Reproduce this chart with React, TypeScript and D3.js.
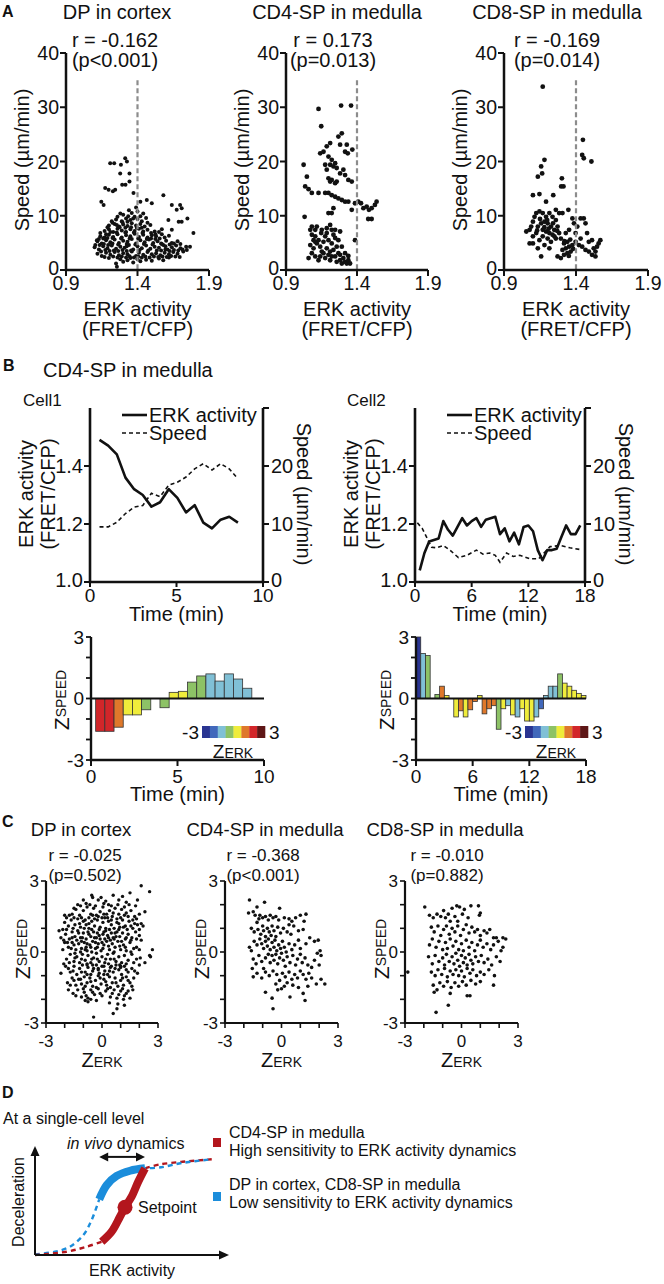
import React from "react";
import * as d3 from "d3";

const FONT = "'Liberation Sans', Arial, Helvetica, sans-serif";
const INK = "#111";

// ---------------- Panel A data ----------------
const A_X_DOMAIN = [0.9, 1.9];
const A_Y_DOMAIN = [0, 40];
const A_X_TICKS = [0.9, 1.4, 1.9];
const A_Y_TICKS = [0, 10, 20, 30, 40];
const A_THRESHOLD = 1.4;
const A_THRESHOLD_TOP = 35;
const A_TITLES = ["DP in cortex", "CD4-SP in medulla", "CD8-SP in medulla"];
const A_R = ["r = -0.162", "r = 0.173", "r = -0.169"];
const A_P = ["(p<0.001)", "(p=0.013)", "(p=0.014)"];

const A_DP: [number, number][] = [
  [1.25,1.2],[1.30,1.5],[1.33,1.8],[1.37,1.4],[1.40,2.0],[1.42,1.6],[1.46,1.9],[1.50,1.7],[1.55,2.1],[1.58,1.8],[1.62,2.3],[1.35,2.2],[1.28,2.0],
  [1.12,3.0],[1.15,2.6],[1.18,3.2],[1.21,2.8],[1.24,3.3],[1.27,2.7],[1.30,3.1],[1.33,2.9],[1.36,3.4],[1.39,2.6],[1.41,3.2],[1.44,2.8],[1.47,3.3],[1.50,2.9],[1.53,3.1],[1.56,2.7],[1.59,3.2],[1.62,2.9],[1.65,3.3],[1.68,3.0],[1.72,3.4],
  [1.10,4.2],[1.13,3.8],[1.16,4.4],[1.19,4.0],[1.22,4.5],[1.25,3.9],[1.28,4.3],[1.31,4.1],[1.34,4.6],[1.37,3.8],[1.40,4.4],[1.43,4.0],[1.46,4.5],[1.49,3.9],[1.52,4.3],[1.55,4.1],[1.58,4.6],[1.61,3.8],[1.64,4.2],[1.67,4.5],[1.70,4.0],[1.74,4.3],
  [1.12,5.3],[1.15,4.9],[1.18,5.5],[1.21,5.1],[1.24,5.6],[1.27,5.0],[1.30,5.4],[1.33,5.2],[1.36,5.7],[1.39,4.9],[1.42,5.5],[1.45,5.1],[1.48,5.6],[1.51,5.0],[1.54,5.3],[1.57,4.8],[1.60,5.4],[1.64,5.0],[1.68,5.3],
  [1.14,6.2],[1.17,6.0],[1.20,6.5],[1.23,6.1],[1.26,6.6],[1.29,6.0],[1.32,6.4],[1.35,6.2],[1.38,6.7],[1.41,6.1],[1.44,6.5],[1.47,6.0],[1.50,6.4],[1.53,6.2],[1.57,6.6],[1.62,6.3],
  [1.17,7.2],[1.20,7.5],[1.23,7.0],[1.26,7.6],[1.29,7.3],[1.32,7.0],[1.35,7.5],[1.38,7.2],[1.41,7.6],[1.44,7.1],[1.47,7.4],[1.52,7.1],[1.57,7.5],
  [1.20,8.2],[1.24,8.5],[1.27,8.0],[1.30,8.4],[1.33,8.1],[1.36,8.6],[1.39,8.2],[1.42,8.5],[1.45,8.0],[1.49,8.3],
  [1.25,9.3],[1.29,9.0],[1.32,9.5],[1.35,9.2],[1.38,9.8],[1.40,9.4],[1.43,9.0],[1.46,9.6],[1.30,10.2],[1.36,10.5],[1.40,10.8],[1.39,11.5],[1.34,11.0],[1.44,10.4],
  [1.235,3.6],[1.265,4.7],[1.295,3.7],[1.325,4.8],[1.355,3.6],[1.385,4.7],[1.415,3.7],[1.445,4.8],[1.475,3.6],[1.505,4.7],[1.535,3.6],
  [1.225,5.9],[1.255,6.9],[1.285,5.8],[1.315,6.9],[1.345,5.8],[1.375,6.9],[1.405,5.8],[1.435,6.8],[1.465,5.7],[1.275,7.9],[1.315,7.8],[1.355,7.9],[1.395,7.8],[1.335,9.9],
  [1.17,2.4],[1.20,2.2],[1.23,2.5],[1.26,2.3],[1.29,2.5],[1.32,2.3],[1.345,2.55],[1.375,2.3],[1.405,2.5],[1.43,2.3],[1.455,2.5],[1.485,2.3],[1.515,2.5],[1.545,2.4],[1.575,2.5],[1.605,2.4],[1.635,2.6],[1.665,2.5],[1.695,2.4],
  [1.145,3.4],[1.175,3.7],[1.205,3.5],[1.265,3.5],[1.325,3.5],[1.565,3.6],[1.595,3.8],[1.625,3.5],[1.655,3.7],[1.685,3.6],[1.715,3.8],[1.745,3.7],
  [1.135,4.6],[1.165,4.8],[1.195,4.6],[1.225,4.9],[1.325,4.4],[1.565,4.9],[1.595,4.4],[1.625,4.7],[1.655,4.9],[1.70,4.8],
  [1.13,5.7],[1.16,5.8],[1.19,5.9],[1.495,5.8],[1.525,5.7],[1.555,5.8],[1.59,6.0],[1.14,6.8],[1.18,6.6],[1.21,7.0],[1.495,6.8],[1.525,6.6],[1.55,7.0],
  [1.19,7.9],[1.225,8.7],[1.255,8.3],[1.295,8.8],[1.43,7.8],[1.47,8.7],[1.22,9.0],[1.26,9.8],[1.33,8.9],[1.42,9.9],[1.37,9.5],[1.28,10.4],
  [1.209,19.7],[1.237,19.7],[1.314,20.6],[1.326,20.0],[1.284,19.4],[1.279,17.8],[1.344,17.8],[1.293,15.7],[1.316,15.7],[1.344,16.3],
  [1.174,15.1],[1.198,14.8],[1.228,14.5],[1.244,14.8],[1.147,12.6],[1.163,12.0],[1.372,14.2],[1.581,13.8],[1.640,12.0],[1.698,12.0],
  [1.709,11.4],[1.674,11.1],[1.749,9.5],[1.688,8.9],[1.709,8.9],[1.791,6.8],[1.767,4.3],[1.616,9.2],[1.640,7.4],[1.116,5.5],
  [1.105,4.6],[1.42,12.6],[1.465,12.9],[1.50,12.3],[1.256,0.6]
];

const A_CD4: [number, number][] = [
  [1.024,19.4],[1.047,17.2],[1.035,15.4],[1.059,14.9],[1.031,9.8],[1.082,14.2],[1.129,14.2],[1.129,29.7],[1.148,26.5],[1.141,21.5],
  [1.164,21.8],[1.187,22.8],[1.211,23.4],[1.199,10.5],[1.222,10.5],[1.234,11.4],[1.288,30.3],[1.358,30.3],[1.269,24.6],[1.293,25.2],
  [1.281,23.1],[1.316,21.8],[1.335,21.5],[1.367,22.2],[1.328,23.1],[1.199,20.9],[1.222,20.3],[1.211,19.4],[1.176,19.4],[1.187,18.5],
  [1.234,19.1],[1.246,19.7],[1.257,18.8],[1.281,17.8],[1.304,18.5],[1.316,17.5],[1.339,16.6],[1.363,16.3],[1.199,16.9],[1.211,16.3],
  [1.222,16.6],[1.246,16.0],[1.257,16.3],[1.176,14.2],[1.199,14.2],[1.222,13.8],[1.246,13.5],[1.269,13.2],[1.293,12.9],[1.316,12.6],
  [1.339,12.6],[1.363,11.1],[1.386,12.3],[1.409,12.6],[1.428,12.3],[1.445,11.4],[1.468,11.7],[1.484,11.1],[1.503,11.4],[1.526,12.0],
  [1.538,12.6],[1.479,9.4],[1.503,9.4],[1.386,5.5],
  [1.071,7.4],[1.082,8.0],[1.106,7.4],[1.117,8.0],[1.152,7.4],[1.211,8.3],[1.222,7.4],[1.187,6.8],[1.106,6.2],[1.071,4.6],
  [1.059,2.2],[1.082,3.1],[1.106,2.5],[1.129,1.8],[1.094,4.0],[1.117,4.9],[1.129,5.5],[1.141,4.3],[1.152,3.4],[1.164,5.2],
  [1.176,6.2],[1.187,4.0],[1.199,2.8],[1.211,1.8],[1.222,4.9],[1.234,3.7],[1.246,2.5],[1.257,1.5],[1.269,3.1],[1.281,1.8],
  [1.293,1.2],[1.304,2.2],[1.316,1.5],[1.328,1.2],[1.339,1.8],[1.351,1.2],[1.281,2.8],[1.257,4.3],[1.246,5.9],[1.164,3.1],
  [1.176,2.2],[1.141,2.5],[1.148,6.8],[1.199,5.5],[1.187,7.7],[1.234,6.5],[1.246,7.4],[1.281,7.1],[1.269,5.5],[1.293,4.3],
  [1.316,3.1],[1.339,2.6],[1.106,5.2],[1.082,6.5],[1.094,5.5],[1.211,3.4],[1.222,2.5]
];

const A_CD8: [number, number][] = [
  [1.169,33.8],[1.181,20.3],[1.158,19.1],[1.165,17.8],[1.135,17.2],[1.448,24.0],[1.443,21.2],[1.454,20.6],[1.507,20.0],[1.302,16.9],
  [1.313,15.4],[1.297,15.4],[1.101,13.8],[1.146,14.0],[1.242,13.8],[1.192,12.6],
  [1.055,7.1],[1.078,7.4],[1.089,8.0],[1.101,8.9],[1.112,9.8],[1.124,10.5],[1.146,10.8],[1.169,10.5],[1.192,9.8],[1.215,10.5],
  [1.237,9.8],[1.260,9.2],[1.283,10.5],[1.306,10.5],[1.347,11.1],[1.101,6.2],[1.124,6.8],[1.135,8.0],[1.158,8.6],[1.181,8.9],
  [1.203,8.6],[1.226,8.0],[1.249,7.4],[1.272,8.0],[1.169,7.4],[1.192,7.1],[1.215,6.8],[1.237,6.5],[1.260,5.8],[1.146,5.5],
  [1.169,6.2],[1.203,5.8],[1.226,5.2],[1.181,4.6],[1.135,4.0],[1.101,4.9],[1.158,2.5],[1.215,4.0],[1.283,6.8],[1.295,5.8],
  [1.317,4.9],[1.329,4.0],[1.340,3.1],[1.352,4.3],[1.363,3.4],[1.375,4.6],[1.306,3.7],[1.317,2.8],[1.295,2.2],[1.272,2.5],
  [1.340,5.2],[1.375,9.5],[1.386,8.6],[1.409,8.0],[1.432,9.5],[1.454,9.5],[1.466,8.6],[1.397,6.8],[1.397,5.2],[1.420,4.6],
  [1.432,5.8],[1.443,4.3],[1.466,3.7],[1.489,3.4],[1.511,2.8],[1.535,2.5],[1.523,4.0],[1.546,4.3],[1.557,4.9],[1.569,5.5],
  [1.511,5.5],[1.489,5.2],[1.477,6.8],[1.535,3.4],[1.260,11.1],[1.329,6.8],[1.352,7.4],[1.078,4.9],
  [1.18,7.9],[1.21,7.6],[1.24,8.6],[1.20,9.2],[1.15,9.4],[1.13,7.3],[1.25,6.2],[1.27,7.2],[1.32,5.3],[1.36,5.6],[1.38,3.9],[1.35,2.6]
];

// ---------------- Panel B data ----------------
const B_LEFT_DOMAIN = [1.0, 1.6];
const B_LEFT_TICKS = [1.0, 1.2, 1.4];
const B_RIGHT_DOMAIN = [0, 30];
const B_RIGHT_TICKS = [0, 10, 20, 30];
const B_RIGHT_LABELS = [0, 10, 20];
const B_CELL1_X = [0, 10];
const B_CELL1_TICKS = [0, 5, 10];
const B_CELL2_X = [0, 18];
const B_CELL2_TICKS = [0, 6, 12, 18];

const B_ERK1_T = [0.55,1.05,1.55,2.05,2.55,3.05,3.55,4.05,4.55,5.05,5.55,6.05,6.55,7.05,7.55,8.05,8.55];
const B_ERK1_V = [1.49,1.47,1.44,1.36,1.32,1.30,1.26,1.275,1.32,1.29,1.24,1.265,1.205,1.185,1.215,1.225,1.205];
const B_SPD1_V = [9.5,9.5,10.3,11.8,12.9,13.2,15.3,14.7,16.7,17.2,18.1,19.5,20.4,19.3,20.4,19.5,17.8];

const B_ERK2_T = [0.5,1,1.5,2,2.5,3,3.5,4,4.5,5,5.5,6,6.5,7,7.5,8,8.5,9,9.5,10,10.5,11,11.5,12,12.5,13,13.5,14,14.5,15,15.5,16,16.5,17,17.5];
const B_ERK2_V = [1.04,1.10,1.14,1.145,1.15,1.21,1.18,1.16,1.19,1.22,1.195,1.21,1.22,1.19,1.215,1.22,1.225,1.165,1.185,1.14,1.17,1.13,1.19,1.195,1.175,1.11,1.075,1.11,1.11,1.115,1.155,1.195,1.165,1.165,1.195];
const B_SPD2_T = [0.25,0.78,1.3,1.76,2.3,3.0,3.7,4.6,5.5,6.5,7.2,7.9,8.5,9.0,9.7,10.4,11.1,12.2,13.1,13.6,14.3,15.4,16.4,17.5];
const B_SPD2_V = [10.2,9.2,7.5,6.0,5.9,6.3,5.5,4.2,4.6,5.5,4.8,5.0,4.6,3.4,5.0,4.4,4.6,4.0,4.0,4.9,6.1,6.3,5.9,5.6];

const Z_DOMAIN = [-3, 3];
const Z_TICKS = [-3, -2, -1, 0, 1, 2, 3];
const Z_LABELS = [-3, 0, 3];
const Z_COLORS = ["#2a3592", "#4168bb", "#80c0d6", "#8dc266", "#efec3b", "#df782b", "#d2262a", "#5e1616"];

const B_BAR1_T = [0.535,1.066,1.597,2.128,2.659,3.19,3.721,4.252,4.783,5.314,5.845,6.376,6.907,7.438,7.969,8.5,9.031];
const B_BAR1_W = 0.531;
const B_BAR1_ZS = [-1.6,-1.6,-1.4,-0.8,-0.8,-0.55,0,-0.45,0.3,0.35,0.8,1.1,1.2,0.85,1.2,0.95,0.5];
const B_BAR1_ZE = [1.9,1.8,1.2,0.5,0.4,-0.3,0.1,-0.4,0.3,0.2,-0.5,-0.6,-1.0,-1.2,-0.9,-1.0,-0.8];

const B_BAR2_T = [0.25,0.75,1.25,1.75,2.25,2.75,3.25,3.75,4.25,4.75,5.25,5.75,6.25,6.75,7.25,7.75,8.25,8.75,9.25,9.75,10.25,10.75,11.25,11.75,12.25,12.75,13.25,13.75,14.25,14.75,15.25,15.75,16.25,16.75,17.25,17.75];
const B_BAR2_W = 0.5;
const B_BAR2_ZS = [3.0,2.2,2.1,0.0,0.2,0.6,0.15,0.0,-0.9,-0.6,-0.9,-0.55,-0.15,0.15,-0.75,-0.5,-0.35,-1.5,-0.5,-0.35,-0.8,-0.9,-0.5,-1.1,-1.1,-0.9,-0.5,0.15,0.6,0.6,1.2,0.75,0.6,0.4,0.25,0.15];
const B_BAR2_ZE = [-2.6,-1.2,-0.5,-0.2,-0.3,1.0,0.3,0.2,0.4,0.9,0.5,1.0,0.8,0.5,1.1,0.9,1.2,-0.4,0.3,-0.9,0.2,-1.0,0.1,0.6,0.5,-0.9,-1.8,-1.0,-1.1,-0.8,-0.2,0.3,0.4,0.2,0.3,0.5];

// ---------------- Panel C data ----------------
const C_TITLES = ["DP in cortex", "CD4-SP in medulla", "CD8-SP in medulla"];
const C_R = ["r = -0.025", "r = -0.368", "r = -0.010"];
const C_P = ["(p=0.502)", "(p<0.001)", "(p=0.882)"];

const C_DP: [number, number][] = [
  [-1.0,2.2],[-0.55,2.4],[-0.5,2.3],[-0.2,2.2],[0.2,2.15],[0.6,2.4],[1.1,2.35],[1.3,2.1],[1.5,2.5],[1.9,2.2],[2.1,2.8],[2.55,2.55],[-0.85,2.05],[0.35,2.0],[-1.3,2.0],[1.8,1.95],
  [-1.6,1.6],[-1.4,1.8],[-1.2,1.55],[-1.0,1.75],[-0.8,1.9],[-0.6,1.6],[-0.45,1.85],[-0.3,1.55],[-0.1,1.7],[0.05,1.9],[0.25,1.6],[0.4,1.75],[0.55,1.5],[0.7,1.85],[0.9,1.6],[1.05,1.8],[1.3,1.65],[1.55,1.75],[1.75,1.5],[2.0,1.6],[2.1,1.2],[-1.9,1.45],[-0.7,1.45],[0.15,1.45],[0.8,1.4],
  [-2.3,0.9],[-2.0,1.25],[-1.8,1.1],[-1.65,1.35],[-1.45,1.15],[-1.3,1.4],[-1.15,1.05],[-1.0,1.3],[-0.85,1.15],[-0.7,1.0],[-0.55,1.3],[-0.4,1.1],[-0.25,1.35],[-0.1,1.05],[0.05,1.25],[0.2,1.0],[0.35,1.3],[0.5,1.15],[0.65,1.0],[0.8,1.25],[0.95,1.05],[1.1,1.35],[1.25,1.1],[1.45,1.3],[1.65,1.0],[1.9,1.15],[2.2,1.1],[-2.1,0.95],
  [-2.2,0.6],[-1.95,0.75],[-1.75,0.55],[-1.6,0.85],[-1.45,0.65],[-1.3,0.9],[-1.15,0.6],[-1.0,0.8],[-0.85,0.55],[-0.7,0.75],[-0.55,0.95],[-0.4,0.6],[-0.25,0.8],[-0.1,0.55],[0.05,0.75],[0.2,0.9],[0.35,0.6],[0.5,0.8],[0.65,0.55],[0.8,0.85],[0.95,0.65],[1.1,0.8],[1.25,0.55],[1.4,0.75],[1.6,0.6],[1.8,0.85],[2.0,0.7],[2.1,0.5],
  [-1.8,0.2],[-1.6,0.4],[-1.4,0.1],[-1.25,0.35],[-1.1,0.15],[-0.95,0.4],[-0.8,0.05],[-0.65,0.3],[-0.5,0.45],[-0.35,0.15],[-0.2,0.35],[-0.05,0.05],[0.1,0.3],[0.25,0.45],[0.4,0.1],[0.55,0.35],[0.7,0.2],[0.85,0.45],[1.0,0.1],[1.15,0.3],[1.3,0.05],[1.5,0.4],[1.7,0.15],[2.0,0.1],[2.7,0.1],[2.55,-0.15],[-2.0,0.4],
  [-1.9,-0.3],[-1.7,-0.1],[-1.5,-0.4],[-1.35,-0.2],[-1.2,-0.45],[-1.05,-0.1],[-0.9,-0.35],[-0.75,-0.15],[-0.6,-0.45],[-0.45,-0.25],[-0.3,-0.05],[-0.15,-0.4],[0.0,-0.2],[0.15,-0.45],[0.3,-0.1],[0.45,-0.3],[0.6,-0.05],[0.75,-0.4],[0.9,-0.2],[1.05,-0.45],[1.2,-0.15],[1.4,-0.35],[1.6,-0.1],[1.85,-0.3],[2.6,-0.2],[2.3,-0.45],
  [-2.2,-0.9],[-1.95,-0.6],[-1.7,-0.85],[-1.5,-0.6],[-1.35,-0.95],[-1.2,-0.7],[-1.05,-0.55],[-0.9,-0.85],[-0.75,-0.65],[-0.6,-0.95],[-0.45,-0.7],[-0.3,-0.55],[-0.15,-0.9],[0.0,-0.6],[0.15,-0.8],[0.3,-0.95],[0.45,-0.65],[0.6,-0.85],[0.75,-0.55],[0.9,-0.75],[1.05,-0.95],[1.2,-0.6],[1.4,-0.85],[1.6,-0.7],[1.9,-0.9],[2.0,-0.55],
  [-1.85,-1.3],[-1.6,-1.1],[-1.4,-1.4],[-1.25,-1.15],[-1.1,-1.35],[-0.95,-1.05],[-0.8,-1.3],[-0.65,-1.1],[-0.5,-1.45],[-0.35,-1.2],[-0.2,-1.0],[-0.05,-1.35],[0.1,-1.15],[0.25,-1.4],[0.4,-1.05],[0.55,-1.3],[0.7,-1.1],[0.85,-1.45],[1.0,-1.2],[1.15,-1.4],[1.3,-1.05],[1.5,-1.3],[1.7,-1.1],
  [-1.8,-1.6],[-1.55,-1.75],[-1.3,-1.6],[-1.1,-1.9],[-0.95,-1.7],[-0.75,-1.95],[-0.6,-1.6],[-0.4,-1.8],[-0.2,-1.55],[0.0,-1.85],[0.2,-1.65],[0.45,-1.9],[0.65,-1.6],[0.9,-1.8],[1.1,-1.55],[1.3,-1.75],[1.5,-1.95],[1.65,-1.6],
  [-0.9,-2.05],[-0.75,-2.1],[-0.3,-2.05],[0.4,-2.15],[0.8,-2.4],[0.85,-2.2],[1.15,-2.0],[-0.45,-2.75],[0.6,-2.6],[1.2,-2.25],
  [-1.1,0.45],[-0.9,0.1],[-0.6,0.2],[-0.3,0.6],[0.0,0.4],[0.3,0.7],[0.6,0.6],[-0.8,-0.5],[-0.5,-0.8],[-0.2,-0.7],[0.2,-0.3],[0.5,-0.6],[-0.7,1.2],[-0.4,1.4],[0.1,1.6],[0.5,1.35],[-1.2,1.2],[-1.5,0.3],[0.9,1.2],[1.0,-0.6],
  [-1.15,1.95],[-0.65,2.0],[-0.35,1.95],[0.1,2.05],[0.5,1.95],[0.85,2.0],[1.2,1.9],[-1.5,1.85],[1.45,2.0],[-0.05,2.3],[0.9,2.2],[2.3,1.7],
  [-1.75,1.55],[-1.5,1.45],[-1.1,1.45],[-0.9,1.35],[-0.5,1.55],[-0.2,1.5],[0.0,1.45],[0.3,1.45],[0.6,1.65],[1.0,1.45],[1.2,1.55],[1.4,1.5],[1.65,1.35],[1.85,1.4],[-2.0,1.55],
  [-1.9,0.95],[-1.55,1.0],[-1.25,0.8],[-0.95,1.0],[-0.75,0.85],[-0.45,0.85],[-0.15,0.95],[0.1,0.85],[0.4,0.95],[0.7,0.8],[0.9,0.95],[1.15,1.05],[1.35,0.95],[1.55,1.1],[1.75,1.2],[2.0,0.95],
  [-2.05,0.5],[-1.85,0.4],[-1.6,0.6],[-1.35,0.5],[-1.05,0.6],[-0.8,0.35],[-0.6,0.65],[-0.35,0.4],[-0.15,0.7],[0.15,0.55],[0.45,0.5],[0.75,0.65],[1.05,0.45],[1.3,0.6],[1.55,0.5],[1.85,0.55],
  [-2.1,0.1],[-1.65,0.15],[-1.45,-0.05],[-1.15,0.0],[-0.85,0.2],[-0.55,0.0],[-0.25,0.2],[0.05,0.15],[0.35,0.25],[0.65,0.0],[0.95,0.25],[1.25,0.2],[1.55,0.0],[1.85,0.2],
  [-2.05,-0.5],[-1.75,-0.45],[-1.45,-0.25],[-1.1,-0.3],[-0.8,-0.55],[-0.55,-0.3],[-0.25,-0.3],[0.1,-0.6],[0.35,-0.5],[0.65,-0.3],[0.95,-0.55],[1.3,-0.5],[1.7,-0.45],[2.05,-0.25],
  [-1.8,-0.7],[-1.55,-0.8],[-1.1,-0.85],[-0.8,-0.95],[-0.5,-0.55],[-0.2,-0.75],[0.1,-0.95],[0.4,-0.8],[0.7,-0.7],[1.0,-0.65],[1.3,-0.75],[1.75,-0.8],
  [-1.7,-1.4],[-1.5,-1.2],[-1.15,-1.15],[-0.9,-1.45],[-0.6,-1.25],[-0.3,-1.5],[-0.1,-1.1],[0.2,-1.25],[0.45,-1.5],[0.75,-1.3],[1.1,-1.1],[1.4,-1.2],[1.6,-1.45],
  [-1.4,-1.85],[-1.0,-1.55],[-0.85,-1.85],[-0.5,-1.7],[-0.1,-1.75],[0.3,-1.55],[0.55,-1.75],[0.8,-1.95],[1.0,-1.65],[1.2,-1.85],[1.4,-1.65],[-0.6,-2.0]
];

const C_CD4: [number, number][] = [
  [-1.75,1.65],[-1.7,2.2],[-1.3,1.9],[-0.9,2.1],[-1.5,1.7],[-1.4,1.55],[-1.15,1.55],[-1.3,1.25],[-1.2,1.4],[-1.0,1.45],[-0.85,1.5],[-0.7,1.35],[-0.6,1.55],[-0.45,1.45],[-0.3,1.5],[-0.15,1.35],[-0.1,1.85],[0.15,1.45],[0.4,1.4],[0.55,1.3],[0.75,1.45],[1.0,1.55],[1.3,1.6],[1.2,1.3],
  [-1.6,1.0],[-1.45,0.85],[-1.25,0.95],[-1.1,0.75],[-1.0,1.1],[-0.95,0.9],[-0.85,0.65],[-0.75,1.0],[-0.65,0.85],[-0.55,0.7],[-0.5,1.1],[-0.4,0.9],[-0.3,0.65],[-0.2,1.05],[-0.05,0.8],[0.1,1.0],[0.3,0.85],[0.5,0.75],[0.65,1.1],[0.9,0.9],[1.15,0.95],[0.4,1.15],
  [-1.7,0.2],[-1.6,0.05],[-1.45,0.45],[-1.3,0.3],[-1.15,0.55],[-1.05,0.35],[-0.95,0.15],[-0.85,0.45],[-0.75,0.25],[-0.7,0.55],[-0.6,0.1],[-0.5,0.4],[-0.4,0.2],[-0.35,0.5],[-0.25,0.05],[-0.15,0.3],[-0.05,0.15],[0.05,0.45],[0.15,0.2],[0.25,0.0],[0.4,0.35],[0.55,0.1],[0.7,0.3],[0.9,0.5],[1.0,0.15],[1.3,0.35],[1.75,0.45],[1.95,0.5],[2.05,0.05],[1.5,0.6],
  [-1.55,-0.7],[-1.5,-0.3],[-1.35,-0.5],[-1.2,-0.15],[-1.05,-0.4],[-0.95,-0.7],[-0.85,-0.25],[-0.7,-0.1],[-0.6,-0.45],[-0.5,-0.15],[-0.4,-0.35],[-0.3,-0.1],[-0.2,-0.5],[-0.1,-0.25],[0.0,-0.05],[0.1,-0.35],[0.2,-0.6],[0.3,-0.2],[0.45,-0.45],[0.6,-0.15],[0.75,-0.55],[0.85,-0.3],[1.0,-0.1],[1.1,-0.45],[1.25,-0.25],[1.4,-0.55],[1.6,-0.65],[1.75,-0.35],[2.0,-0.55],[2.1,-0.15],[1.9,-0.05],
  [-1.5,-1.05],[-1.3,-0.9],[-1.05,-1.1],[-0.85,-0.85],[-0.65,-1.0],[-0.45,-0.8],[-0.25,-0.95],[-0.1,-1.2],[0.05,-0.9],[0.2,-1.05],[0.4,-0.85],[0.55,-1.15],[0.7,-0.95],[0.85,-1.1],[1.0,-0.8],[1.15,-0.95],[1.3,-1.15],[1.45,-0.9],[1.6,-1.1],[2.1,-1.15],[2.3,-1.35],[1.85,-1.35],
  [-0.85,-1.7],[-0.5,-1.95],[-0.45,-2.4],[-0.2,-1.6],[0.0,-1.55],[0.15,-1.45],[0.45,-1.9],[0.6,-1.4],[0.9,-1.5],[1.15,-1.75],[1.25,-2.05],[1.4,-1.45],[0.3,-1.3],[-0.3,-1.35]
];

const C_CD8: [number, number][] = [
  [-2.85,-0.85],[-1.95,1.9],[-1.7,1.55],[-1.5,1.45],[-1.3,1.6],[-1.1,1.5],[-0.95,1.75],[-0.85,1.45],[-0.7,1.6],[-0.5,1.85],[-0.35,1.5],[-0.25,1.95],[-0.1,1.9],[0.05,1.6],[0.15,1.8],[0.35,1.45],[0.5,1.95],[0.9,1.95],[0.95,1.55],[1.0,1.65],[-0.6,1.3],[-0.2,1.3],
  [-1.6,1.05],[-1.45,0.85],[-1.25,1.1],[-1.1,0.7],[-0.95,0.95],[-0.8,1.1],[-0.65,0.75],[-0.5,1.0],[-0.35,0.85],[-0.2,1.1],[-0.05,0.7],[0.1,0.95],[0.25,1.15],[0.4,0.8],[0.55,1.05],[0.7,0.85],[0.85,0.95],[1.0,0.7],[1.2,0.9],[1.35,0.8],[1.5,0.95],[1.7,0.6],[1.85,0.6],[2.2,0.6],[2.35,0.55],
  [-1.7,0.3],[-1.55,0.55],[-1.35,0.2],[-1.2,0.45],[-1.0,0.1],[-0.85,0.4],[-0.75,0.15],[-0.6,0.55],[-0.45,0.25],[-0.3,0.45],[-0.15,0.1],[0.0,0.35],[0.1,0.05],[0.25,0.5],[0.4,0.2],[0.55,0.4],[0.7,0.05],[0.85,0.3],[1.0,0.5],[1.15,0.2],[1.35,0.35],[1.55,0.1],[1.7,0.3],[1.95,0.45],[2.1,0.05],[2.2,0.2],
  [-1.75,-0.2],[-1.55,-0.5],[-1.4,-0.15],[-1.2,-0.4],[-1.0,-0.25],[-0.9,-0.55],[-0.8,-0.1],[-0.65,-0.4],[-0.5,-0.2],[-0.4,-0.5],[-0.3,-0.05],[-0.2,-0.35],[-0.1,-0.6],[0.0,-0.15],[0.1,-0.45],[0.2,-0.25],[0.3,-0.55],[0.4,-0.1],[0.5,-0.35],[0.6,-0.5],[0.75,-0.2],[0.9,-0.4],[1.05,-0.15],[1.2,-0.45],[1.4,-0.3],[1.6,-0.55],[1.85,-0.2],[2.05,-0.4],
  [-1.6,-0.85],[-1.4,-1.0],[-1.25,-0.75],[-1.05,-0.95],[-0.9,-0.7],[-0.75,-1.05],[-0.6,-0.8],[-0.45,-0.95],[-0.3,-0.75],[-0.15,-1.0],[0.0,-0.8],[0.15,-1.05],[0.3,-0.7],[0.45,-0.9],[0.6,-0.75],[0.8,-1.0],[1.0,-0.85],[1.2,-0.95],[1.45,-0.75],[1.75,-1.0],
  [-1.5,-1.4],[-1.3,-1.6],[-1.15,-1.3],[-0.95,-1.45],[-0.75,-1.25],[-0.55,-1.5],[-0.35,-1.3],[-0.15,-1.45],[0.05,-1.25],[0.25,-1.4],[0.5,-1.2],[0.75,-1.35],[1.0,-1.25],[1.7,-1.4],[-1.45,-1.7],[-0.6,-1.75],[0.3,-1.85],[0.45,-1.85],[-1.35,-2.55],[-0.7,-2.25]
];

// ---------------- Panel D data (schematic, unit space) ----------------
const D_BLUE_LOW: [number, number][] = [[0,0.006],[0.103,0.03],[0.18,0.076],[0.249,0.183],[0.292,0.321],[0.331,0.511]];
const D_BLUE_SOLID: [number, number][] = [[0.331,0.511],[0.37,0.642],[0.421,0.725],[0.49,0.773],[0.567,0.795]];
const D_BLUE_HIGH: [number, number][] = [[0.567,0.795],[0.65,0.805],[0.76,0.845],[0.911,0.878]];
const D_RED_LOW: [number, number][] = [[0,0],[0.163,0.03],[0.266,0.076],[0.344,0.122]];
const D_RED_SOLID: [number, number][] = [[0.344,0.122],[0.395,0.214],[0.438,0.351],[0.464,0.438],[0.498,0.535],[0.532,0.672],[0.567,0.795]];
const D_RED_HIGH: [number, number][] = [[0.567,0.795],[0.64,0.83],[0.76,0.855],[0.911,0.878]];
const D_SETPOINT: [number, number] = [0.464, 0.438];
const D_DYNAMICS: [number, number] = [0.331, 0.567];
const D_DYNAMICS_Y = 0.9;
const D_RED = "#b3161d";
const D_BLUE = "#1b8ddb";

// ---------------- helpers ----------------
const T = (p: any) => <text fontFamily={FONT} fill={INK} {...p} />;

function PanelA({ idx, x0, x1, titleCx, rCx, pts, r }: any) {
  const xs = d3.scaleLinear().domain(A_X_DOMAIN).range([x0, x1]);
  const ys = d3.scaleLinear().domain(A_Y_DOMAIN).range([270, 53]);
  const f = d3.format(".1f");
  return (
    <g>
      <T x={titleCx} y={19} fontSize={20} textAnchor="middle">{A_TITLES[idx]}</T>
      <T x={rCx} y={47} fontSize={20} textAnchor="middle">{A_R[idx]}</T>
      <T x={rCx} y={67} fontSize={20} textAnchor="middle">{A_P[idx]}</T>
      {pts.map(([x, y]: number[], i: number) => (
        <circle key={i} cx={xs(x)} cy={ys(y)} r={r} fill={INK} />
      ))}
      <line x1={xs(A_THRESHOLD)} x2={xs(A_THRESHOLD)} y1={ys(A_THRESHOLD_TOP)} y2={ys(0)} stroke="#8c8c8c" strokeWidth={2.2} strokeDasharray="5,3" />
      <path d={`M${x0},${ys(40)}V${ys(0)}H${x1}`} stroke={INK} strokeWidth={2.5} fill="none" />
      {A_Y_TICKS.map((t) => (
        <g key={t}>
          <line x1={x0 - 6} x2={x0} y1={ys(t)} y2={ys(t)} stroke={INK} strokeWidth={2} />
          <T x={x0 - 7} y={ys(t) - (t === 0 ? 2 : 0)} fontSize={19.5} textAnchor="end" dominantBaseline="central">{t}</T>
        </g>
      ))}
      {A_X_TICKS.map((t) => (
        <g key={t}>
          <line x1={xs(t)} x2={xs(t)} y1={ys(0)} y2={ys(0) + 6} stroke={INK} strokeWidth={2} />
          <T x={xs(t)} y={290} fontSize={19.5} textAnchor="middle">{f(t)}</T>
        </g>
      ))}
      <T transform={`translate(${x0 - 44},160) rotate(-90)`} fontSize={20} textAnchor="middle" dominantBaseline="central">Speed (µm/min)</T>
      <T x={(x0 + x1) / 2} y={316} fontSize={20} textAnchor="middle">ERK activity</T>
      <T x={(x0 + x1) / 2} y={336} fontSize={20} textAnchor="middle">(FRET/CFP)</T>
    </g>
  );
}

function LineChart({ x0, x1, xDomain, xTicks, label, labelX, erkT, erkV, spT, spV }: any) {
  const xs = d3.scaleLinear().domain(xDomain).range([x0, x1]);
  const yL = d3.scaleLinear().domain(B_LEFT_DOMAIN).range([582, 408]);
  const yR = d3.scaleLinear().domain(B_RIGHT_DOMAIN).range([582, 408]);
  const erkLine = d3.line<number>().x((_, i) => xs(erkT[i])).y((v) => yL(v));
  const spLine = d3.line<number>().x((_, i) => xs(spT[i])).y((v) => yR(v));
  const f = d3.format(".1f");
  const lx = x0 + 32;
  return (
    <g>
      <T x={labelX} y={406} fontSize={17}>{label}</T>
      <path d={spLine(spV) || ""} fill="none" stroke={INK} strokeWidth={1.6} strokeDasharray="4,3" />
      <path d={erkLine(erkV) || ""} fill="none" stroke={INK} strokeWidth={2.6} strokeLinejoin="round" />
      <path d={`M${x0},${yL(1.6)}V${yL(1.0)}H${x1}V${yR(30)}`} fill="none" stroke={INK} strokeWidth={2.6} />
      {B_LEFT_TICKS.map((t) => (
        <g key={t}>
          <line x1={x0 - 6} x2={x0} y1={yL(t)} y2={yL(t)} stroke={INK} strokeWidth={2} />
          <T x={x0 - 7} y={yL(t) - (t === 1.0 ? 2 : 0)} fontSize={20} textAnchor="end" dominantBaseline="central">{f(t)}</T>
        </g>
      ))}
      {B_RIGHT_TICKS.map((t) => (
        <line key={t} x1={x1} x2={x1 + 6} y1={yR(t)} y2={yR(t)} stroke={INK} strokeWidth={2} />
      ))}
      {B_RIGHT_LABELS.map((t) => (
        <T key={t} x={x1 + 8} y={yR(t) - (t === 0 ? 2 : 0)} fontSize={20} dominantBaseline="central">{t}</T>
      ))}
      {xTicks.map((t: number) => (
        <g key={t}>
          <line x1={xs(t)} x2={xs(t)} y1={582} y2={587} stroke={INK} strokeWidth={2} />
          <T x={xs(t)} y={602} fontSize={19} textAnchor="middle">{t}</T>
        </g>
      ))}
      <T x={(x0 + x1) / 2} y={621} fontSize={20} textAnchor="middle">Time (min)</T>
      <T transform={`translate(${x0 - 64},494) rotate(-90)`} fontSize={20} textAnchor="middle" dominantBaseline="central">ERK activity</T>
      <T transform={`translate(${x0 - 42},494) rotate(-90)`} fontSize={20} textAnchor="middle" dominantBaseline="central">(FRET/CFP)</T>
      <T transform={`translate(${x1 + 41},494) rotate(90)`} fontSize={20} textAnchor="middle" dominantBaseline="central">Speed (µm/min)</T>
      <line x1={lx} x2={lx + 25} y1={415} y2={415} stroke={INK} strokeWidth={2.6} />
      <T x={lx + 27} y={422} fontSize={20}>ERK activity</T>
      <line x1={lx} x2={lx + 25} y1={433} y2={433} stroke={INK} strokeWidth={1.6} strokeDasharray="4,3" />
      <T x={lx + 27} y={440} fontSize={20}>Speed</T>
    </g>
  );
}

function BarChart({ x0, x1, xDomain, xTicks, centers, width, zs, ze, cbX }: any) {
  const xs = d3.scaleLinear().domain(xDomain).range([x0, x1]);
  const ys = d3.scaleLinear().domain(Z_DOMAIN).range([760, 637]);
  const color = d3.scaleQuantize<string>().domain(Z_DOMAIN as [number, number]).range(Z_COLORS);
  const cb = d3.scaleLinear().domain(Z_DOMAIN).range([cbX, cbX + 63]);
  const step = (Z_DOMAIN[1] - Z_DOMAIN[0]) / Z_COLORS.length;
  const bins = d3.range(Z_COLORS.length).map((i) => Z_DOMAIN[0] + i * step);
  return (
    <g>
      {centers.map((c: number, i: number) => {
        const v = zs[i];
        const xa = xs(c - width / 2), xb = xs(c + width / 2);
        const ya = ys(Math.max(0, v)), yb = ys(Math.min(0, v));
        if (Math.abs(v) < 1e-6) return null;
        return <rect key={i} x={xa} y={ya} width={xb - xa} height={yb - ya} fill={color(ze[i])} stroke="#333" strokeWidth={0.8} />;
      })}
      <line x1={x0} x2={x1} y1={ys(0)} y2={ys(0)} stroke={INK} strokeWidth={2.2} />
      <path d={`M${x0},${ys(3)}V${ys(-3)}H${x1}`} fill="none" stroke={INK} strokeWidth={2.4} />
      {Z_TICKS.map((t) => (
        <line key={t} x1={x0 - 5} x2={x0} y1={ys(t)} y2={ys(t)} stroke={INK} strokeWidth={1.8} />
      ))}
      {Z_LABELS.map((t) => (
        <T key={t} x={x0 - 7} y={ys(t)} fontSize={19} textAnchor="end" dominantBaseline="central">{t}</T>
      ))}
      {xTicks.map((t: number) => (
        <g key={t}>
          <line x1={xs(t)} x2={xs(t)} y1={760} y2={766} stroke={INK} strokeWidth={2} />
          <T x={xs(t)} y={783} fontSize={19} textAnchor="middle">{t}</T>
        </g>
      ))}
      <T x={(x0 + x1) / 2} y={801} fontSize={20} textAnchor="middle">Time (min)</T>
      <T transform={`translate(${x0 - 30},700) rotate(-90)`} textAnchor="middle" dominantBaseline="central">
        <tspan fontSize={21}>Z</tspan><tspan fontSize={14}>SPEED</tspan>
      </T>
      {bins.map((b, i) => (
        <rect key={i} x={cb(b)} y={726} width={cb(b + step) - cb(b) + 0.3} height={12} fill={Z_COLORS[i]} />
      ))}
      <T x={cbX - 3} y={732} fontSize={19} textAnchor="end" dominantBaseline="central">-3</T>
      <T x={cbX + 67} y={732} fontSize={19} dominantBaseline="central">3</T>
      <T x={cbX + 31} y={758} textAnchor="middle">
        <tspan fontSize={19}>Z</tspan><tspan fontSize={14}>ERK</tspan>
      </T>
    </g>
  );
}

function PanelC({ idx, x0, x1, titleCx, rCx, pts, r }: any) {
  const xs = d3.scaleLinear().domain(Z_DOMAIN).range([x0, x1]);
  const ys = d3.scaleLinear().domain(Z_DOMAIN).range([1023, 881]);
  return (
    <g>
      <T x={titleCx} y={836} fontSize={18.5} textAnchor="middle">{C_TITLES[idx]}</T>
      <T x={rCx} y={861} fontSize={17} textAnchor="middle">{C_R[idx]}</T>
      <T x={rCx} y={881} fontSize={17} textAnchor="middle">{C_P[idx]}</T>
      {pts.map(([x, y]: number[], i: number) => (
        <circle key={i} cx={xs(x)} cy={ys(y)} r={r} fill={INK} />
      ))}
      <path d={`M${x0},${ys(3)}V${ys(-3)}H${x1}`} fill="none" stroke={INK} strokeWidth={2.2} />
      {Z_TICKS.map((t) => (
        <g key={t}>
          <line x1={x0 - 5} x2={x0} y1={ys(t)} y2={ys(t)} stroke={INK} strokeWidth={1.6} />
          <line x1={xs(t)} x2={xs(t)} y1={ys(-3)} y2={ys(-3) + 5} stroke={INK} strokeWidth={1.6} />
        </g>
      ))}
      {Z_LABELS.map((t) => (
        <g key={t}>
          <T x={x0 - 7} y={ys(t)} fontSize={17} textAnchor="end" dominantBaseline="central">{t}</T>
          <T x={xs(t)} y={1047} fontSize={17} textAnchor="middle">{t}</T>
        </g>
      ))}
      <T transform={`translate(${x0 - 24},949) rotate(-90)`} textAnchor="middle" dominantBaseline="central">
        <tspan fontSize={21}>Z</tspan><tspan fontSize={14}>SPEED</tspan>
      </T>
      <T x={(x0 + x1) / 2} y={1067} textAnchor="middle">
        <tspan fontSize={20}>Z</tspan><tspan fontSize={14}>ERK</tspan>
      </T>
    </g>
  );
}

function PanelD() {
  const xs = d3.scaleLinear().domain([0, 1]).range([35, 229]);
  const ys = d3.scaleLinear().domain([0, 1]).range([1255, 1146]);
  const line = d3.line<[number, number]>().x((d) => xs(d[0])).y((d) => ys(d[1])).curve(d3.curveCatmullRom);
  const ax = xs(D_DYNAMICS[0]), bx = xs(D_DYNAMICS[1]), ay = ys(D_DYNAMICS_Y);
  return (
    <g>
      <T x={3} y={1124} fontSize={16}>At a single-cell level</T>
      <T x={67} y={1149} fontSize={16}><tspan fontStyle="italic">in vivo</tspan> dynamics</T>
      <line x1={ax + 7} x2={bx - 7} y1={ay} y2={ay} stroke={INK} strokeWidth={2} />
      <polygon points={`${ax},${ay} ${ax + 9},${ay - 4.5} ${ax + 9},${ay + 4.5}`} fill={INK} />
      <polygon points={`${bx},${ay} ${bx - 9},${ay - 4.5} ${bx - 9},${ay + 4.5}`} fill={INK} />
      <path d={line(D_BLUE_LOW) || ""} fill="none" stroke={D_BLUE} strokeWidth={2.4} strokeDasharray="5,4" />
      <path d={line(D_RED_LOW) || ""} fill="none" stroke={D_RED} strokeWidth={2.4} strokeDasharray="5,4" />
      <path d={line(D_RED_HIGH) || ""} fill="none" stroke={D_RED} strokeWidth={2.4} strokeDasharray="5,4" />
      <path d={line(D_BLUE_HIGH) || ""} fill="none" stroke={D_BLUE} strokeWidth={2.4} strokeDasharray="5,4" strokeDashoffset={4} />
      <path d={line(D_BLUE_SOLID) || ""} fill="none" stroke={D_BLUE} strokeWidth={8} />
      <path d={line(D_RED_SOLID) || ""} fill="none" stroke={D_RED} strokeWidth={8} />
      <circle cx={xs(D_SETPOINT[0])} cy={ys(D_SETPOINT[1])} r={7.5} fill={D_RED} />
      <T x={138} y={1213} fontSize={16}>Setpoint</T>
      <line x1={xs(0)} x2={xs(0)} y1={ys(0)} y2={ys(1) + 8} stroke={INK} strokeWidth={2} />
      <polygon points={`${xs(0)},${ys(1)} ${xs(0) - 4.5},${ys(1) + 10} ${xs(0) + 4.5},${ys(1) + 10}`} fill={INK} />
      <line x1={xs(0)} x2={xs(1) - 8} y1={ys(0)} y2={ys(0)} stroke={INK} strokeWidth={2} />
      <polygon points={`${xs(1)},${ys(0)} ${xs(1) - 10},${ys(0) - 4.5} ${xs(1) - 10},${ys(0) + 4.5}`} fill={INK} />
      <T x={132} y={1276} fontSize={16} textAnchor="middle">ERK activity</T>
      <T transform="translate(18,1202) rotate(-90)" fontSize={16} textAnchor="middle" dominantBaseline="central">Deceleration</T>
      <rect x={213} y={1138} width={8} height={9} fill={D_RED} />
      <T x={229} y={1138} fontSize={16}>CD4-SP in medulla</T>
      <T x={229} y={1156} fontSize={16}>High sensitivity to ERK activity dynamics</T>
      <rect x={213} y={1192} width={8} height={9} fill={D_BLUE} />
      <T x={229} y={1190} fontSize={16}>DP in cortex, CD8-SP in medulla</T>
      <T x={229} y={1208} fontSize={16}>Low sensitivity to ERK activity dynamics</T>
    </g>
  );
}

export default function App() {
  return (
    <svg width={664} height={1284} style={{ position: "absolute", left: 0, top: 0, display: "block", background: "#fff" }}>
      <rect width={664} height={1284} fill="#fff" />
      <T x={2} y={17} fontSize={16} fontWeight="bold">A</T>
      <T x={3} y={371} fontSize={16} fontWeight="bold">B</T>
      <T x={2} y={827} fontSize={16} fontWeight="bold">C</T>
      <T x={2} y={1098} fontSize={16} fontWeight="bold">D</T>

      <PanelA idx={0} x0={66} x1={209} titleCx={117} rCx={115} pts={A_DP} r={2.0} />
      <PanelA idx={1} x0={286} x1={428} titleCx={337} rCx={333} pts={A_CD4} r={2.4} />
      <PanelA idx={2} x0={504} x1={648} titleCx={557} rCx={557} pts={A_CD8} r={2.4} />

      <T x={43} y={377} fontSize={20}>CD4-SP in medulla</T>
      <LineChart x0={90} x1={263} xDomain={B_CELL1_X} xTicks={B_CELL1_TICKS} label="Cell1" labelX={23}
        erkT={B_ERK1_T} erkV={B_ERK1_V} spT={B_ERK1_T} spV={B_SPD1_V} />
      <LineChart x0={415} x1={585} xDomain={B_CELL2_X} xTicks={B_CELL2_TICKS} label="Cell2" labelX={347}
        erkT={B_ERK2_T} erkV={B_ERK2_V} spT={B_SPD2_T} spV={B_SPD2_V} />

      <BarChart x0={91} x1={264} xDomain={B_CELL1_X} xTicks={B_CELL1_TICKS} centers={B_BAR1_T} width={B_BAR1_W}
        zs={B_BAR1_ZS} ze={B_BAR1_ZE} cbX={202} />
      <BarChart x0={416} x1={586} xDomain={B_CELL2_X} xTicks={B_CELL2_TICKS} centers={B_BAR2_T} width={B_BAR2_W}
        zs={B_BAR2_ZS} ze={B_BAR2_ZE} cbX={525} />

      <PanelC idx={0} x0={46} x1={158} titleCx={81} rCx={85} pts={C_DP} r={1.7} />
      <PanelC idx={1} x0={225} x1={338} titleCx={265} rCx={263} pts={C_CD4} r={1.8} />
      <PanelC idx={2} x0={405} x1={518} titleCx={445} rCx={447} pts={C_CD8} r={1.8} />

      <PanelD />
    </svg>
  );
}
